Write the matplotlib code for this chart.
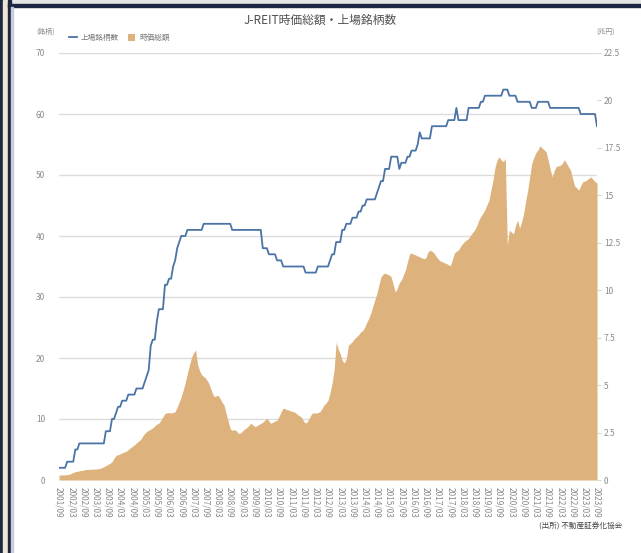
import matplotlib
matplotlib.use("Agg")
import matplotlib.pyplot as plt
from matplotlib.patches import Rectangle
from matplotlib.lines import Line2D
from matplotlib.patches import Patch
import numpy as np

plt.rcParams['font.family'] = ['Noto Sans CJK JP', 'DejaVu Sans']

# ---- data (monthly, 2001/09 .. 2023/09) ----
start_year, start_month = 2001, 9

listings = (
    [2, 2, 2, 2] +                                   # 2001 Sep-Dec
    [3, 3, 3, 3, 5, 5, 6, 6, 6, 6, 6, 6] +           # 2002
    [6, 6, 6, 6, 6, 6, 6, 8, 8, 8, 10, 10] +         # 2003
    [11, 12, 12, 13, 13, 13, 14, 14, 14, 14, 15, 15] +  # 2004
    [15, 15, 16, 17, 18, 22, 23, 23, 26, 28, 28, 28] +  # 2005
    [32, 32, 33, 33, 35, 36, 38, 39, 40, 40, 40, 41] +  # 2006
    [41, 41, 41, 41, 41, 41, 41, 42, 42, 42, 42, 42] +  # 2007
    [42, 42, 42, 42, 42, 42, 42, 42, 42, 41, 41, 41] +  # 2008
    [41, 41, 41, 41, 41, 41, 41, 41, 41, 41, 41, 41] +  # 2009
    [38, 38, 38, 37, 37, 37, 37, 36, 36, 36, 35, 35] +  # 2010
    [35, 35, 35, 35, 35, 35, 35, 35, 35, 34, 34, 34] +  # 2011
    [34, 34, 34, 35, 35, 35, 35, 35, 35, 36, 37, 37] +  # 2012
    [39, 39, 39, 41, 41, 42, 42, 42, 43, 43, 43, 44] +  # 2013
    [44, 45, 45, 46, 46, 46, 46, 46, 47, 48, 49, 49] +  # 2014
    [51, 51, 51, 53, 53, 53, 53, 51, 52, 52, 52, 53] +  # 2015
    [53, 54, 54, 54, 55, 57, 56, 56, 56, 56, 56, 58] +  # 2016
    [58, 58, 58, 58, 58, 58, 58, 59, 59, 59, 59, 61] +  # 2017
    [59, 59, 59, 59, 59, 61, 61, 61, 61, 61, 61, 62] +  # 2018
    [62, 63, 63, 63, 63, 63, 63, 63, 63, 63, 64, 64] +  # 2019
    [64, 63, 63, 63, 63, 62, 62, 62, 62, 62, 62, 62] +  # 2020
    [61, 61, 61, 62, 62, 62, 62, 62, 62, 61, 61, 61] +  # 2021
    [61, 61, 61, 61, 61, 61, 61, 61, 61, 61, 61, 61] +  # 2022
    [60, 60, 60, 60, 60, 60, 60, 60, 58]                # 2023 Jan-Sep
)

market_cap = (
    [0.26, 0.26, 0.27, 0.27] +
    [0.28, 0.30, 0.35, 0.40, 0.44, 0.46, 0.48, 0.50, 0.52, 0.55, 0.56, 0.56] +
    [0.57, 0.57, 0.58, 0.59, 0.60, 0.65, 0.70, 0.76, 0.82, 0.88, 0.96, 1.15] +
    [1.30, 1.33, 1.38, 1.43, 1.47, 1.52, 1.60, 1.70, 1.77, 1.85, 1.95, 2.05] +
    [2.12, 2.30, 2.45, 2.55, 2.62, 2.68, 2.75, 2.85, 2.95, 3.00, 3.15, 3.34] +
    [3.50, 3.54, 3.55, 3.53, 3.56, 3.60, 3.86, 4.10, 4.40, 4.75, 5.15, 5.62] +
    [6.05, 6.45, 6.70, 6.85, 6.10, 5.75, 5.55, 5.45, 5.35, 5.20, 4.95, 4.65] +
    [4.40, 4.42, 4.47, 4.30, 4.10, 3.95, 3.50, 3.10, 2.70, 2.62, 2.65, 2.60] +
    [2.45, 2.48, 2.58, 2.68, 2.75, 2.85, 2.99, 2.92, 2.82, 2.85, 2.92, 2.98] +
    [3.05, 3.15, 3.25, 3.10, 2.99, 3.05, 3.10, 3.15, 3.35, 3.60, 3.79, 3.75] +
    [3.70, 3.68, 3.62, 3.60, 3.55, 3.45, 3.38, 3.30, 3.10, 2.99, 3.10, 3.30] +
    [3.50, 3.54, 3.52, 3.55, 3.60, 3.75, 3.95, 4.05, 4.20, 4.60, 5.10, 5.80] +
    [7.26, 6.90, 6.65, 6.30, 6.17, 6.40, 7.10, 7.20, 7.30, 7.45, 7.55, 7.65] +
    [7.80, 7.87, 8.05, 8.30, 8.52, 8.80, 9.15, 9.50, 9.83, 10.30, 10.70, 10.85] +
    [10.90, 10.85, 10.80, 10.70, 10.30, 9.90, 10.10, 10.40, 10.54, 10.80, 11.06, 11.50] +
    [11.90, 11.96, 11.90, 11.86, 11.80, 11.76, 11.70, 11.67, 11.70, 12.00, 12.12, 12.05] +
    [11.96, 11.80, 11.65, 11.55, 11.50, 11.45, 11.41, 11.35, 11.28, 11.60, 11.96, 12.05] +
    [12.12, 12.30, 12.45, 12.57, 12.65, 12.73, 12.90, 13.05, 13.18, 13.40, 13.69, 13.90] +
    [14.05, 14.24, 14.50, 14.75, 15.30, 15.81, 16.50, 16.87, 17.03, 16.85, 16.78, 16.94] +
    [12.37, 13.18, 13.05, 12.98, 13.40, 13.69, 13.27, 13.60, 14.05, 14.70, 15.27, 16.00] +
    [16.68, 17.00, 17.25, 17.39, 17.61, 17.50, 17.40, 17.29, 16.87, 16.40, 15.97, 16.30] +
    [16.52, 16.55, 16.58, 16.68, 16.87, 16.70, 16.50, 16.33, 15.90, 15.50, 15.40, 15.27] +
    [15.50, 15.72, 15.75, 15.81, 15.90, 15.97, 15.85, 15.72, 15.65]
)

left_ticks = [0, 10, 20, 30, 40, 50, 60, 70]
right_ticks = [0, 2.5, 5, 7.5, 10, 12.5, 15, 17.5, 20, 22.5]
right_tick_labels = ["0", "2.5", "5", "7.5", "10", "12.5", "15", "17.5", "20", "22.5"]

n = len(listings)
months = np.arange(n)
labels = []
for i in range(n):
    y = start_year + (start_month - 1 + i) // 12
    m = (start_month - 1 + i) % 12 + 1
    labels.append(f"{y}/{m:02d}")
tick_pos = months[::6]
tick_lab = labels[::6]

# ---- figure ----
W, H = 641, 553
fig = plt.figure(figsize=(W / 100, H / 100), dpi=100)

navy = "#1c2743"
def frect(x0, y0, x1, y1, color):
    fig.patches.append(Rectangle((x0 / W, 1 - y1 / H), (x1 - x0) / W, (y1 - y0) / H,
                                 transform=fig.transFigure, color=color, zorder=0))
frect(0, 0, 641, 4, "#e6e6e6")
frect(0, 0, 3, 553, navy)
frect(3, 0, 8, 553, "#efe7d2")
frect(8, 0, 11, 553, navy)
frect(8, 4, 641, 7, navy)
frect(11, 7, 13, 553, "#c9cdd8")

gray = "#8a8a8a"
ax = fig.add_axes([59 / W, 1 - 480 / H, (597 - 59) / W, (480 - 53) / H])
ax.set_xlim(0, n - 1)
ax.set_ylim(0, 70)
ax.set_yticks(left_ticks)
ax.set_yticklabels([str(t) for t in left_ticks])
ax.tick_params(axis='y', length=0, pad=10, labelsize=6, labelcolor=gray)
ax.grid(axis='y', color="#dcdcdc", linewidth=1)
ax.set_axisbelow(True)
for s in ax.spines.values():
    s.set_visible(False)
ax.set_xticks(tick_pos)
ax.set_xticklabels(tick_lab, rotation=-90, fontsize=6, color=gray)
ax.tick_params(axis='x', length=0, pad=5)

ax2 = ax.twinx()
ax2.set_ylim(0, 22.5)
ax2.fill_between(months, market_cap, 0, color="#deb27c", linewidth=0)
ax2.set_yticks(right_ticks)
ax2.set_yticklabels(right_tick_labels)
ax2.tick_params(axis='y', length=3, width=0.6, color="#cccccc", pad=2, labelsize=6, labelcolor=gray)
for s in ax2.spines.values():
    s.set_visible(False)

ax3 = ax.twinx()
ax3.set_ylim(0, 70)
ax3.plot(months, listings, color="#4a73a6", linewidth=1.3)
ax3.set_yticks([])
for s in ax3.spines.values():
    s.set_visible(False)
ax3.set_xlim(0, n - 1)

fig.text(320 / W, 1 - 20 / H, "J-REIT時価総額・上場銘柄数", ha='center', va='center',
         fontsize=8.5, color="#505050")
fig.text(46 / W, 1 - 32 / H, "(銘柄)", ha='center', va='center', fontsize=5, color=gray)
fig.text(606 / W, 1 - 32 / H, "(兆円)", ha='center', va='center', fontsize=5, color=gray)
fig.text(622 / W, 1 - 527 / H, "(出所) 不動産証券化協会", ha='right', va='center',
         fontsize=5.5, color="#444444")

handles = [Line2D([0], [0], color="#4a73a6", linewidth=1.3),
           Patch(facecolor="#deb27c", edgecolor="none")]
fig.legend(handles, ["上場銘柄数", "時価総額"], loc='center left',
           bbox_to_anchor=(62 / W, 1 - 38 / H), ncol=2, frameon=False,
           fontsize=5.5, handlelength=1.0, handleheight=0.9, columnspacing=1.2,
           handletextpad=0.5, labelcolor="#777777")

fig.savefig("out.png", dpi=100)
